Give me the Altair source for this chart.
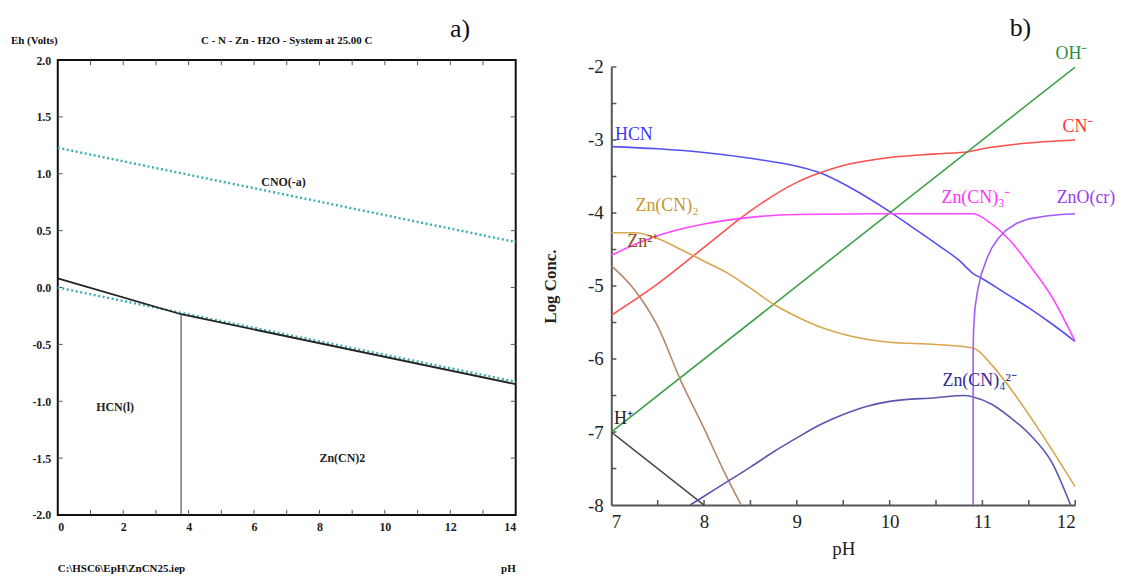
import altair as alt
import pandas as pd

SERIF = "Liberation Serif"

# ---------------- Panel a: Eh-pH diagram ----------------
a_o2_ph = [0, 14]
a_o2_eh = [1.228, 0.400]
a_h2_ph = [0, 14]
a_h2_eh = [0.0, -0.828]
a_bnd_ph = [0, 3.77, 14]
a_bnd_eh = [0.08, -0.235, -0.85]
a_vert_ph = [3.77, 3.77]
a_vert_eh = [-0.235, -2.0]
a_x_labels = [0, 2, 4, 6, 8, 10, 12, 14]
a_x_ticks = [1, 2, 3, 4, 5, 6, 7, 8, 9, 10, 11, 12, 13]
a_y_labels = [-2.0, -1.5, -1.0, -0.5, 0.0, 0.5, 1.0, 1.5, 2.0]
a_y_ticks = [-1.5, -1.0, -0.5, 0.0, 0.5, 1.0, 1.5]
a_region_names = ["CNO(-a)", "HCN(l)", "Zn(CN)2"]
a_region_ph = [6.9, 1.75, 8.7]
a_region_eh = [0.93, -1.05, -1.5]

# ---------------- Panel b: log concentration vs pH ----------------
b_HCN_ph = [7, 7.5, 8, 8.5, 9, 9.25, 9.5, 9.75, 10, 10.25, 10.5, 10.75, 10.9, 11, 11.25, 11.5, 11.75, 12]
b_HCN = [-3.09, -3.12, -3.17, -3.25, -3.36, -3.45, -3.6, -3.78, -3.98, -4.2, -4.42, -4.65, -4.83, -4.9, -5.1, -5.3, -5.52, -5.76]
b_CN_ph = [7, 7.5, 8, 8.5, 9, 9.25, 9.5, 10, 10.5, 10.85, 11, 11.5, 12]
b_CN = [-5.4, -4.97, -4.47, -3.97, -3.58, -3.45, -3.35, -3.24, -3.19, -3.16, -3.12, -3.04, -3.0]
b_OH_ph = [7, 12]
b_OH = [-7, -2]
b_H_ph = [7, 8]
b_H = [-7, -8]
b_ZnCN3_ph = [7, 7.25, 7.5, 7.75, 8, 8.5, 9, 10, 10.9, 11.1, 11.3, 11.5, 11.75, 12]
b_ZnCN3 = [-4.58, -4.43, -4.31, -4.22, -4.15, -4.06, -4.02, -4.01, -4.01, -4.15, -4.38, -4.7, -5.15, -5.76]
b_ZnCN2_ph = [7, 7.25, 7.5, 7.75, 8, 8.25, 8.5, 8.75, 9, 9.25, 9.5, 9.75, 10, 10.5, 10.9, 11.1, 11.3, 11.6, 12]
b_ZnCN2 = [-4.27, -4.27, -4.35, -4.5, -4.66, -4.82, -5.03, -5.25, -5.42, -5.56, -5.66, -5.73, -5.77, -5.8, -5.85, -6.08, -6.4, -6.95, -7.75]
b_Zn_ph = [7, 7.25, 7.5, 7.75, 8.0, 8.2, 8.4]
b_Zn = [-4.72, -5.05, -5.55, -6.3, -6.95, -7.5, -8.0]
b_ZnCN4_ph = [7.85, 8.0, 8.25, 8.5, 8.75, 9, 9.25, 9.5, 9.75, 10, 10.5, 10.8, 10.9, 11.1, 11.3, 11.5, 11.75, 11.95]
b_ZnCN4 = [-8, -7.88, -7.68, -7.48, -7.27, -7.08, -6.9, -6.76, -6.65, -6.58, -6.53, -6.5, -6.52, -6.62, -6.8, -7.02, -7.42, -8.0]
b_ZnO_ph = [10.9, 10.9, 10.905, 10.92, 10.95, 10.99, 11.05, 11.1, 11.17, 11.25, 11.37, 11.5, 11.69, 11.85, 12]
b_ZnO = [-8, -5.9, -5.6, -5.3, -5.05, -4.83, -4.62, -4.48, -4.35, -4.24, -4.14, -4.08, -4.04, -4.02, -4.01]

b_series = ["HCN", "CN", "OH", "H", "ZnCN3", "ZnCN2", "Zn", "ZnCN4"]
b_line_colors = ["#5252f2", "#ff5050", "#40a04c", "#444444", "#ff48ff", "#d8a64e", "#b8876a", "#5a56b0"]
b_zno_color = "#a45cf4"

b_lab_text = ["HCN", "OH⁻", "CN⁻", "Zn(CN)₂", "Zn²⁺", "Zn(CN)₃⁻", "ZnO(cr)", "Zn(CN)₄²⁻", "H⁺"]
b_lab_ph = [7.04, 11.96, 12.03, 7.6, 7.34, 10.93, 11.8, 10.97, 7.03]
b_lab_val = [-2.93, -1.82, -2.82, -3.9, -4.4, -3.79, -3.79, -6.3, -6.82]
b_lab_align = ["left", "center", "center", "center", "center", "center", "left", "center", "left"]
b_lab_color = ["#3a3aee", "#2f8f3a", "#ff3434", "#c8952f", "#8a4a22", "#ff30ff", "#9a3cf0", "#2c2c92", "#222222"]

b_x_labels = [7, 8, 9, 10, 11, 12]
b_x_ticks = [7.5, 8, 8.5, 9, 9.5, 10, 10.5, 11, 11.5, 12]
b_y_labels = [-8, -7, -6, -5, -4, -3, -2]
b_y_ticks = [-7.5, -7, -6.5, -6, -5.5, -5, -4.5, -4, -3.5, -3, -2.5, -2]

HYPHEN = "replace(datum.label, '\u2212', '-')"

# ================= Panel a =================
XA_SCALE = alt.Scale(domain=[0, 14], nice=False, zero=False)
YA_SCALE = alt.Scale(domain=[-2, 2], nice=False, zero=False)
xa_axis = alt.Axis(values=a_x_labels, format="d", title=None, ticks=False, domain=False, grid=False,
                   labelFont=SERIF, labelFontWeight="bold", labelFontSize=12, labelPadding=7, labelColor="#222")
ya_axis = alt.Axis(values=a_y_labels, format=".1f", title=None, ticks=False, domain=False, grid=False,
                   labelExpr=HYPHEN,
                   labelFont=SERIF, labelFontWeight="bold", labelFontSize=12, labelPadding=7, labelColor="#222")


def XA(f):
    return alt.X(f"{f}:Q", scale=XA_SCALE, axis=xa_axis)


def YA(f):
    return alt.Y(f"{f}:Q", scale=YA_SCALE, axis=ya_axis)


frame_df = pd.DataFrame({"x": [0], "x2": [14], "y": [-2], "y2": [2]})
frame = alt.Chart(frame_df).mark_rect(fill="transparent", stroke="#111", strokeWidth=2).encode(
    x=XA("x"), x2="x2:Q", y=YA("y"), y2="y2:Q")

tlx = 0.045
tly = 0.15
tick_rows = []
for t in a_x_ticks:
    tick_rows.append({"x": t, "x2": t, "y": -2, "y2": -2 + tlx})
    tick_rows.append({"x": t, "x2": t, "y": 2, "y2": 2 - tlx})
for t in a_y_ticks:
    tick_rows.append({"x": 0, "x2": tly, "y": t, "y2": t})
    tick_rows.append({"x": 14, "x2": 14 - tly, "y": t, "y2": t})
a_ticks = alt.Chart(pd.DataFrame(tick_rows)).mark_rule(color="#555", strokeWidth=1).encode(
    x=XA("x"), x2="x2:Q", y=YA("y"), y2="y2:Q")

water_df = pd.concat([
    pd.DataFrame({"x": a_o2_ph, "y": a_o2_eh, "s": "o2", "o": range(len(a_o2_ph))}),
    pd.DataFrame({"x": a_h2_ph, "y": a_h2_eh, "s": "h2", "o": range(len(a_h2_ph))}),
])
water = alt.Chart(water_df).mark_line(color="#3aaeae", strokeWidth=2.4, strokeDash=[2, 2.6]).encode(
    x=XA("x"), y=YA("y"), detail="s:N", order="o:Q")

bnd = alt.Chart(pd.DataFrame({"x": a_bnd_ph, "y": a_bnd_eh, "o": range(3)})).mark_line(
    color="#222", strokeWidth=1.8).encode(x=XA("x"), y=YA("y"), order="o:Q")
vert = alt.Chart(pd.DataFrame({"x": a_vert_ph, "y": a_vert_eh, "o": range(2)})).mark_line(
    color="#333", strokeWidth=1).encode(x=XA("x"), y=YA("y"), order="o:Q")

regions = alt.Chart(pd.DataFrame({"x": a_region_ph, "y": a_region_eh, "t": a_region_names})).mark_text(
    font=SERIF, fontWeight="bold", fontSize=12, color="#222").encode(x=XA("x"), y=YA("y"), text="t:N")


def a_note(text, x, y, dx, dy, align, size=12, weight="bold", baseline="middle"):
    return alt.Chart(pd.DataFrame({"x": [x], "y": [y], "t": [text]})).mark_text(
        font=SERIF, fontWeight=weight, fontSize=size, color="#111", align=align, baseline=baseline,
        dx=dx, dy=dy).encode(x=XA("x"), y=YA("y"), text="t:N")


a_title = a_note("C - N - Zn - H2O - System at 25.00 C", 7, 2.0, 0, -19, "center", size=11)
a_eh = a_note("Eh (Volts)", 0, 2.0, -47, -19, "left", size=11)
a_tag = a_note("a)", 12.3, 2.0, 0, -31, "center", size=26, weight="normal")
a_file = a_note("C:\\HSC6\\EpH\\ZnCN25.iep", 0, -2.0, 0, 54, "left", size=11)
a_ph = a_note("pH", 14, -2.0, 0, 54, "right", size=11)

panel_a = alt.layer(frame, a_ticks, water, bnd, vert, regions, a_title, a_eh, a_tag, a_file, a_ph).properties(
    width=460, height=457)

# ================= Panel b =================
XB_SCALE = alt.Scale(domain=[7, 12], nice=False, zero=False)
YB_SCALE = alt.Scale(domain=[-8, -2], range=[447, 7], nice=False, zero=False)
xb_axis = alt.Axis(values=b_x_labels, format="d", title="pH", ticks=False, grid=False,
                   domainColor="#555", domainWidth=2,
                   labelFont=SERIF, labelFontSize=19, labelPadding=8, labelColor="#222",
                   titleFont=SERIF, titleFontSize=19, titleFontWeight="normal", titleColor="#222", titlePadding=8)
yb_axis = alt.Axis(values=b_y_labels, format="d", title="Log Conc.", ticks=False, grid=False,
                   labelExpr=HYPHEN,
                   domainColor="#555", domainWidth=2,
                   labelFont=SERIF, labelFontSize=19, labelPadding=8, labelColor="#222",
                   titleFont=SERIF, titleFontSize=17, titleFontWeight="bold", titleColor="#222", titlePadding=28)


def XB(f):
    return alt.X(f"{f}:Q", scale=XB_SCALE, axis=xb_axis)


def YB(f):
    return alt.Y(f"{f}:Q", scale=YB_SCALE, axis=yb_axis)


b_rows = []
for t in b_x_ticks:
    b_rows.append({"x": t, "x2": t, "y": -8, "y2": -8 + 0.07})
for t in b_y_ticks:
    b_rows.append({"x": 7, "x2": 7 + 0.055, "y": t, "y2": t})
b_ticks = alt.Chart(pd.DataFrame(b_rows)).mark_rule(color="#555", strokeWidth=1.5).encode(
    x=XB("x"), x2="x2:Q", y=YB("y"), y2="y2:Q")

series_data = {
    "HCN": (b_HCN_ph, b_HCN), "CN": (b_CN_ph, b_CN), "OH": (b_OH_ph, b_OH), "H": (b_H_ph, b_H),
    "ZnCN3": (b_ZnCN3_ph, b_ZnCN3), "ZnCN2": (b_ZnCN2_ph, b_ZnCN2), "Zn": (b_Zn_ph, b_Zn),
    "ZnCN4": (b_ZnCN4_ph, b_ZnCN4),
}
b_df = pd.concat([
    pd.DataFrame({"x": series_data[s][0], "y": series_data[s][1], "s": s, "o": range(len(series_data[s][0]))})
    for s in b_series
])
b_lines = alt.Chart(b_df).mark_line(strokeWidth=1.6, clip=True, interpolate="monotone").encode(
    x=XB("x"), y=YB("y"),
    color=alt.Color("s:N", scale=alt.Scale(domain=b_series, range=b_line_colors), legend=None),
    detail="s:N", order="o:Q")

zno_df = pd.DataFrame({"x": b_ZnO_ph, "y": b_ZnO, "o": range(len(b_ZnO_ph))})
b_zno = alt.Chart(zno_df).mark_line(strokeWidth=1.6, clip=True, color=b_zno_color).encode(
    x=XB("x"), y=YB("y"), order="o:Q")

lab_df = pd.DataFrame({"x": b_lab_ph, "y": b_lab_val, "t": b_lab_text, "a": b_lab_align, "c": b_lab_color})
b_labels = []
for al in ["left", "center"]:
    sub = lab_df[lab_df["a"] == al]
    b_labels.append(alt.Chart(sub).mark_text(font=SERIF, fontSize=18, align=al, baseline="middle").encode(
        x=XB("x"), y=YB("y"), text="t:N",
        color=alt.Color("c:N", scale=None, legend=None)))

b_tag = alt.Chart(pd.DataFrame({"x": [11.41], "y": [-2.0], "t": ["b)"]})).mark_text(
    font=SERIF, fontSize=26, color="#111", baseline="middle", dy=-39).encode(x=XB("x"), y=YB("y"), text="t:N")

panel_b = alt.layer(b_ticks, b_lines, b_zno, *b_labels, b_tag).properties(width=466, height=447)

chart = alt.hconcat(panel_a, panel_b, spacing=96, bounds="flush").properties(
    padding={"left": 3, "top": 6, "right": 0, "bottom": 0}
).configure_view(stroke=None)

chart.save("out.html", embed_options={"renderer": "svg", "actions": False})
